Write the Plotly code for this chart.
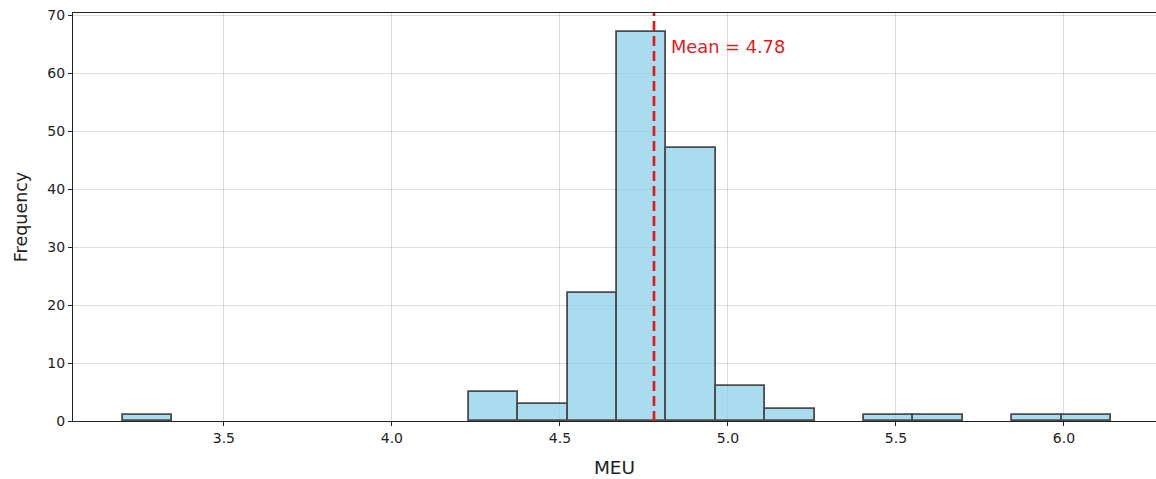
import plotly.graph_objects as go

# Histogram of MEU values: 20 equal bins from 3.2 to 6.14
bin_start = 3.2
bin_end = 6.14
n_bins = 20
counts = [1, 0, 0, 0, 0, 0, 0, 5, 3, 22, 67, 47, 6, 2, 0, 1, 1, 0, 1, 1]
mean_value = 4.78

width = (bin_end - bin_start) / n_bins
centers = [bin_start + width * (i + 0.5) for i in range(n_bins)]
# empty bins get no outline
edge_widths = [1.8 if c > 0 else 0 for c in counts]

fig = go.Figure()
fig.add_trace(go.Bar(
    x=centers,
    y=counts,
    width=[width] * n_bins,
    marker=dict(color="skyblue", line=dict(color="black", width=edge_widths)),
    opacity=0.7,
    showlegend=False,
))

# Mean marker
fig.add_shape(type="line", x0=mean_value, x1=mean_value, y0=0, y1=1,
              xref="x", yref="paper",
              line=dict(color="#e31a1c", width=2.7, dash="10px,5px"))
fig.add_annotation(x=mean_value + 0.045, y=64.6, xref="x", yref="y",
                   text=f"Mean = {mean_value:.2f}", showarrow=False,
                   xanchor="left", yanchor="middle",
                   font=dict(color="#e31a1c", size=17.8))

axis_common = dict(
    showline=True, linecolor="#222222", linewidth=1.3,
    ticks="outside", ticklen=4, tickwidth=1, tickcolor="#222222",
    showgrid=True, gridcolor="rgba(0,0,0,0.13)", gridwidth=1,
    zeroline=False,
    tickfont=dict(size=14, color="#222222"),
)

fig.update_xaxes(
    range=[3.051, 6.274],
    tickvals=[3.5, 4.0, 4.5, 5.0, 5.5, 6.0],
    ticktext=["3.5", "4.0", "4.5", "5.0", "5.5", "6.0"],
    mirror=True,
    title=dict(text="MEU", font=dict(size=18.5, color="#222222"), standoff=16),
    **axis_common,
)
fig.update_yaxes(
    range=[0, 70.35],
    tickvals=[0, 10, 20, 30, 40, 50, 60, 70],
    title=dict(text="Frequency", font=dict(size=17.5, color="#222222"), standoff=15),
    **axis_common,
)

fig.update_layout(
    width=1156, height=479,
    margin=dict(l=73, r=0, t=13, b=58),
    plot_bgcolor="white", paper_bgcolor="white",
    font=dict(family="DejaVu Sans", color="#222222"),
    bargap=0,
)

fig.write_html("out.html")
